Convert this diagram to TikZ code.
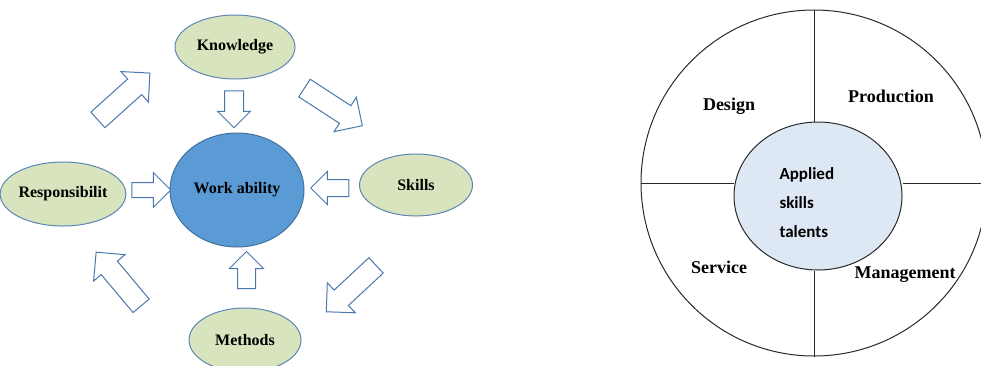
\documentclass[tikz,border=0pt]{standalone}
\usepackage{fontspec}
\setmainfont{Liberation Serif}
\newfontfamily\calfont{Carlito}
\usetikzlibrary{shapes.geometric,shapes.arrows}
\definecolor{leafgreen}{HTML}{D7E4BD}
\definecolor{leafline}{HTML}{5E86B5}
\definecolor{workblue}{HTML}{5B9BD5}
\definecolor{workline}{HTML}{41719C}
\definecolor{flowline}{HTML}{4A78AE}
\definecolor{corefill}{HTML}{DEE8F4}
\definecolor{ringline}{HTML}{2A2A2A}

\tikzset{
	topic/.style={ellipse,draw=leafline,fill=leafgreen,line width=1pt,inner sep=0pt,
		font=\fontsize{16}{18}\selectfont\bfseries},
	flow/.style={single arrow,draw=flowline,fill=white,line width=1pt,inner xsep=0pt,
		shape border uses incircle=false},
	field/.style={font=\fontsize{18}{20}\selectfont\bfseries},
}

\begin{document}
\begin{tikzpicture}[x=1pt,y=-1pt]
	\useasboundingbox (0,0) rectangle (981,365);
	\clip (0,0) rectangle (981,365);
	% work ability and its sources
	\node[ellipse,draw=workline,fill=workblue,line width=1pt,minimum width=134,
		minimum height=114,inner sep=0pt,font=\fontsize{16}{18}\selectfont\bfseries]
		(work) at (237,190) {Work ability};
	\node[topic,minimum width=120,minimum height=64] (know) at (235,47) {Knowledge};
	\node[topic,minimum width=112,minimum height=64] (resp) at (63,194) {Responsibilit};
	\node[topic,minimum width=113,minimum height=62] (skills) at (416,185) {Skills};
	\node[topic,minimum width=112,minimum height=64] (meth) at (245,340) {Methods};
	\foreach \nm/\x/\y/\a/\l/\s/\e in {
			kw/234/104.5/-90/37/18/7,
			rw/147.5/190/0/39/14/10,
			sw/334/188/180/38/16/8,
			mw/246.5/274.5/90/37/17/8,
			rk/120/100/42/70/20/10,
			ks/329/104/-33/69/20/10,
			sm/355/285/223/68/20/10,
			mr/122/283/130/70/20/10
			} {
		\node[flow,rotate=\a,minimum height=\l,inner ysep=\s/2,
			single arrow head extend=\e] (\nm) at (\x,\y) {};
	};
	% applied skills wheel
	\node[circle,draw=ringline,line width=1pt,minimum size=346,inner sep=0pt]
		(wheel) at (814,183) {};
	\node[ellipse,draw=ringline,fill=corefill,line width=1pt,minimum width=168,
		minimum height=148,inner sep=0pt] (core) at (818,196) {};
	\draw[ringline,line width=1pt] (wheel.north) -- (wheel.north |- core.north);
	\draw[ringline,line width=1pt] (wheel.south) -- (wheel.south |- core.south);
	\draw[ringline,line width=1pt] (wheel.west) -- (wheel.west -| core.west);
	\draw[ringline,line width=1pt] (core.east |- wheel.east) -- (wheel.east);
	\node[anchor=west,align=left,font=\fontsize{17}{29}\selectfont\calfont\bfseries]
		(talents) at (776,203) {Applied\\skills\\talents};
	\node[field] (design) at (729,106) {Design};
	\node[field] (prod) at (891,96) {Production};
	\node[field] (serv) at (719,267) {Service};
	\node[field] (mgmt) at (905,275) {Management};
\end{tikzpicture}
\end{document}
